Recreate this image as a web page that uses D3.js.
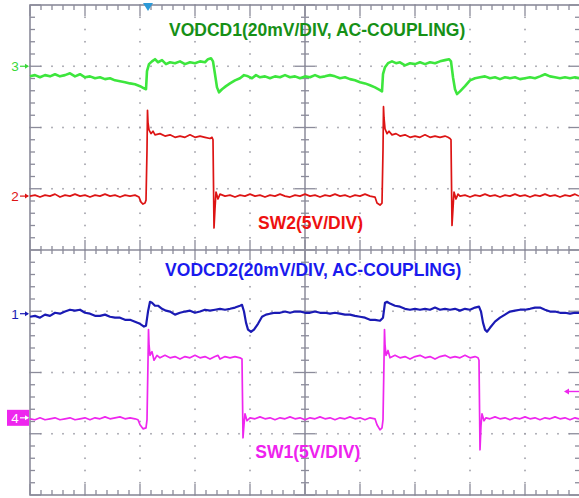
<!DOCTYPE html>
<html>
<head>
<meta charset="utf-8">
<script src="https://cdn.jsdelivr.net/npm/d3@7"></script>
<style>
  body { margin: 0; background: #fff; }
  svg { display: block; font-family: "Liberation Sans", Arial, sans-serif; }
  .grat { stroke: #8b8b9a; fill: none; }
  .dot { fill: #a0a0a8; }
  .trace { fill: none; stroke-linejoin: round; }
  .title { font-weight: bold; text-anchor: middle; }
</style>
</head>
<body>
<div id="scope"></div>
<script>
/*
* Scope capture: two buck phases, switch nodes and output ripple
*/

let width = 579;
let height = 498;

// time in samples (55 samples per division, 10 divisions on screen)
// CH3 VODCD1 in mV (AC coupled)
let ch3 = [
  [0, -3.3], [5, -2.9], [10, -3.6], [15, -2.9], [20, -3.3], [25, -2.6], [30, -3.3], [35, -2.9],
  [40, -2.3], [45, -3.3], [50, -2.6], [55, -3.6], [60, -3.3], [65, -3.9], [70, -3.6], [75, -4.2],
  [80, -3.9], [85, -4.6], [90, -4.9], [95, -5.2], [100, -5.6], [105, -5.9], [110, -6.5], [114, -7.2],
  [116, -7.5], [117, -1.6], [119, 0.7], [122, 1.6], [125, 2.3], [128, 1.3], [132, 2.0], [136, 0.7],
  [140, 1.3], [145, 1.0], [150, 1.6], [155, 0.7], [160, 1.3], [165, 1.0], [170, 1.6], [175, 1.3],
  [178, 2.3], [181, 2.6], [183, 1.6], [185, -2.6], [187, -6.9], [189, -8.5], [192, -7.5], [196, -6.5],
  [200, -5.6], [205, -4.6], [210, -3.9], [214, -2.9], [218, -3.3], [222, -3.9], [226, -2.9], [230, -3.6],
  [235, -3.3], [240, -3.9], [245, -3.3], [250, -3.6], [255, -2.9], [260, -3.6], [265, -3.3], [270, -3.9],
  [275, -3.3], [280, -3.6], [285, -2.9], [290, -3.6], [295, -3.3], [300, -2.9], [305, -3.3], [310, -3.9],
  [315, -3.6], [320, -4.2], [325, -4.6], [330, -5.2], [335, -5.6], [340, -6.2], [345, -6.9], [350, -7.8],
  [352, -8.2], [353, -2.6], [355, -0.3], [358, 1.0], [362, 1.6], [366, 1.0], [370, 1.3], [375, 0.3],
  [380, 1.0], [385, 0.7], [390, 1.3], [395, 0.7], [400, 1.3], [405, 1.0], [410, 1.6], [415, 2.0],
  [419, 2.3], [421, 1.6], [423, -3.6], [425, -7.5], [427, -9.1], [430, -8.2], [435, -6.5], [440, -4.6],
  [445, -3.9], [450, -3.6], [455, -3.3], [460, -3.9], [465, -3.6], [470, -4.2], [475, -3.6], [480, -3.9],
  [485, -3.6], [490, -4.2], [495, -3.9], [500, -3.6], [505, -3.9], [510, -3.3], [515, -2.6], [520, -3.3],
  [525, -3.6], [530, -3.9], [535, -3.6], [540, -3.9], [545, -3.6], [549, -3.9]
];

// CH2 SW2 in V
let ch2 = [
  [0, 0], [5, 0.08], [10, -0.08], [15, 0.08], [20, 0], [25, 0.16], [30, -0.08], [35, 0.08],
  [40, 0], [45, 0.16], [50, 0], [55, 0.08], [60, -0.08], [65, 0.08], [70, 0], [75, 0.16],
  [80, 0], [85, 0.08], [90, -0.08], [95, 0.08], [100, 0], [105, 0.08], [109, -0.08], [111, -0.49],
  [113, -0.65], [115, -0.57], [116, -0.33], [117, 3.75], [117.5, 7.0], [118, 6.0], [119, 5.4], [121, 5.1],
  [123, 5.3], [125, 5.0], [130, 5.1], [135, 4.9], [140, 5.0], [145, 4.8], [150, 4.9], [155, 4.8],
  [160, 5.0], [165, 4.8], [170, 4.9], [175, 4.8], [180, 4.7], [182, 4.8], [183, 4.6], [184, -2.6],
  [185, -1.0], [186, 0.33], [188, -0.24], [190, 0.16], [195, 0], [200, 0.08], [205, -0.08], [210, 0.08],
  [215, 0], [220, 0.16], [225, 0], [230, 0.08], [235, -0.08], [240, 0.08], [245, 0], [250, 0.16],
  [255, 0], [260, -0.08], [265, 0.08], [270, 0], [275, 0.16], [280, 0], [285, 0.08], [290, -0.08],
  [295, 0.08], [300, 0], [305, 0.16], [310, 0], [315, 0.08], [320, -0.08], [325, 0.08], [330, 0],
  [335, 0.16], [340, 0], [345, -0.08], [347, -0.57], [350, -0.73], [352, -0.57], [353, 3.75], [353.5, 7.3],
  [354, 6.4], [355, 5.5], [357, 5.1], [359, 5.3], [362, 5.0], [366, 5.1], [370, 4.9], [375, 5.0],
  [380, 4.8], [385, 4.9], [390, 4.8], [395, 5.0], [400, 4.8], [405, 4.9], [410, 4.8], [415, 4.9],
  [418, 4.8], [420, 4.7], [421, 4.6], [422, -2.4], [423, -1.0], [424, 0.33], [426, -0.24], [428, 0.16],
  [430, 0], [435, 0.08], [440, -0.08], [445, 0.08], [450, 0], [455, 0.16], [460, 0], [465, 0.08],
  [470, -0.08], [475, 0.08], [480, 0], [485, 0.16], [490, 0], [495, 0.08], [500, -0.08], [505, 0.08],
  [510, 0], [515, 0.16], [520, 0], [525, 0.08], [530, -0.08], [535, 0.08], [540, 0], [545, 0.16], [549, 0]
];

// CH1 VODCD2 in mV (AC coupled)
let ch1 = [
  [0, -1.0], [5, -0.7], [10, -1.3], [15, -0.3], [20, -0.7], [25, 0.3], [30, 0], [35, 0.7],
  [40, 1.3], [45, 1.0], [50, 1.3], [55, 0.3], [60, 0], [65, -0.7], [70, -0.7], [75, -0.3],
  [80, -1.0], [85, -1.3], [90, -1.3], [95, -2.0], [100, -2.0], [105, -2.6], [110, -3.3], [114, -4.2],
  [116, -3.9], [118, 0.7], [120, 3.9], [122, 3.6], [125, 2.6], [128, 2.6], [132, 1.6], [136, 1.0],
  [140, 0.7], [145, -0.3], [150, 0.3], [155, 0.7], [160, 1.0], [165, 0.3], [170, 0.7], [175, 1.3],
  [180, 1.0], [185, 1.3], [190, 1.6], [195, 1.3], [200, 1.6], [205, 2.0], [210, 2.6], [212, 2.9],
  [214, 0.7], [216, -2.9], [218, -5.2], [221, -5.9], [224, -5.2], [228, -3.3], [232, -1.0], [236, -0.3],
  [240, 0], [245, 0.3], [250, 0.3], [255, 0.7], [260, 0.3], [265, 0.7], [270, 0.7], [275, 0.3],
  [280, 0.3], [285, 0.7], [290, 0.3], [295, 0.3], [300, 0], [305, 0.3], [310, 0], [315, -0.3],
  [320, -0.3], [325, -0.7], [330, -1.0], [335, -1.3], [340, -2.0], [345, -2.0], [350, -2.3], [353, -1.3],
  [355, 3.6], [357, 3.9], [360, 3.3], [365, 2.6], [370, 2.3], [375, 1.6], [380, 1.3], [385, 1.6],
  [390, 1.3], [395, 1.6], [400, 1.3], [405, 2.0], [410, 1.3], [415, 1.6], [420, 1.3], [425, 1.6],
  [430, 1.0], [435, 1.6], [440, 1.3], [445, 2.0], [449, 2.3], [451, 0.7], [453, -2.9], [455, -5.2],
  [457, -5.9], [460, -4.6], [465, -2.6], [470, -1.3], [475, -0.3], [480, 0.7], [485, 1.0], [490, 1.3],
  [495, 1.3], [500, 1.6], [505, 2.0], [510, 2.0], [515, 1.3], [520, 0.7], [525, 0.7], [530, 0.3],
  [535, 0.3], [540, 0], [545, 0.3], [549, 0.3]
];

// CH4 SW1 in V
let ch4 = [
  [0, -0.08], [5, -0.16], [10, 0], [15, -0.16], [20, -0.08], [25, 0], [30, -0.16], [35, -0.08],
  [40, 0], [45, -0.16], [50, -0.08], [55, 0], [60, -0.16], [65, 0], [70, -0.08], [75, 0.08],
  [80, -0.08], [85, 0], [90, 0.08], [95, -0.08], [100, 0], [105, -0.08], [108, -0.16], [110, -0.57],
  [113, -0.9], [116, -0.82], [117, -0.16], [118, 4.6], [118.5, 7.2], [119, 6.0], [120, 5.1], [122, 5.4],
  [124, 4.7], [127, 5.1], [130, 4.9], [135, 5.1], [140, 4.9], [145, 5.0], [150, 4.8], [155, 5.0],
  [160, 4.9], [165, 5.1], [170, 4.9], [175, 5.0], [180, 4.8], [185, 5.0], [188, 5.1], [190, 4.8],
  [195, 5.0], [200, 4.9], [205, 5.0], [210, 4.9], [212, 4.8], [213, -1.63], [214, -0.57], [215, 0.33],
  [217, -0.24], [220, 0], [225, -0.08], [230, 0.08], [235, -0.08], [240, 0], [245, -0.16], [250, 0],
  [255, -0.08], [260, 0.08], [265, -0.08], [270, 0], [275, -0.16], [280, 0], [285, -0.08], [290, 0.08],
  [295, -0.08], [300, 0], [305, -0.16], [310, 0], [315, -0.08], [320, 0.08], [325, -0.08], [330, 0],
  [335, -0.16], [340, 0], [345, -0.08], [347, -0.57], [350, -0.98], [352, -0.82], [353, -0.16], [354, 4.6],
  [354.5, 7.2], [355, 6.0], [356, 5.1], [358, 5.5], [360, 4.9], [365, 5.1], [370, 4.9], [375, 5.0],
  [380, 4.8], [385, 5.0], [390, 5.1], [395, 4.9], [400, 5.0], [405, 4.8], [410, 5.0], [415, 5.1],
  [420, 4.9], [425, 5.0], [430, 4.9], [435, 5.1], [440, 4.9], [445, 5.0], [448, 4.9], [449, 4.7],
  [450, -2.61], [451, -0.65], [452, 0.33], [454, -0.24], [456, 0], [460, -0.08], [465, 0.08], [470, -0.08],
  [475, 0], [480, -0.16], [485, 0], [490, -0.08], [495, 0.08], [500, -0.08], [505, 0], [510, -0.16],
  [515, 0], [520, -0.08], [525, 0.08], [530, -0.08], [535, 0], [540, -0.16], [545, 0], [549, -0.08]
];

let CHANNELS = [
  { id: '3', data: ch3, perDiv: 20, offset: 3.0, color: '#3de63d', text: '#38d838', width: 2.6 },
  { id: '2', data: ch2, perDiv: 5, offset: 0.88, color: '#dd1414', text: '#dd1414', width: 1.7 },
  { id: '1', data: ch1, perDiv: 20, offset: -1.04, color: '#1a1ab4', text: '#1a1ab4', width: 2.2 },
  { id: '4', data: ch4, perDiv: 5, offset: -2.74, color: '#ee26ee', text: '#ee26ee', width: 1.7 }
];

let LABELS = [
  { text: 'VODCD1(20mV/DIV, AC-COUPLING)', x: 5.22, y: 3.5, color: '#169016' },
  { text: 'SW2(5V/DIV)', x: 5.1, y: 0.35, color: '#ee1111' },
  { text: 'VODCD2(20mV/DIV, AC-COUPLING)', x: 5.15, y: -0.42, color: '#1a1aee' },
  { text: 'SW1(5V/DIV)', x: 5.05, y: -3.4, color: '#ee22ee' }
];

let trigger = { time: 118, level: -2.31 };

let margin = { left: 30, top: 5 };
let plotW = 550;
let plotH = 490;

window.onload = function () {
  let svg = d3.select('#scope').append('svg')
    .attr('width', width)
    .attr('height', height);

  // graticule in divisions
  let xDiv = d3.scaleLinear().domain([0, 10]).range([margin.left, margin.left + plotW]);
  let yDiv = d3.scaleLinear().domain([-4, 4]).range([margin.top + plotH, margin.top]);
  let xTime = d3.scaleLinear().domain([0, 550]).range([margin.left, margin.left + plotW]);

  drawGraticule(svg, xDiv, yDiv);
  drawTraces(svg, xTime, yDiv);
  drawMarkers(svg, xTime, yDiv);

  svg.selectAll('.title').data(LABELS).enter().append('text')
    .attr('class', 'title')
    .attr('x', d => xDiv(d.x))
    .attr('y', d => yDiv(d.y))
    .style('font-size', '17.5px')
    .style('fill', d => d.color)
    .text(d => d.text);
};

function drawGraticule(svg, xDiv, yDiv) {
  let g = svg.append('g');
  let minorX = d3.range(0, 10.001, 0.2);
  let minorY = d3.range(-4, 4.001, 0.2);
  let majorX = d3.range(1, 10);
  let majorY = d3.range(-3, 4);

  // dotted grid
  let dots = [];
  majorX.filter(d => d !== 5).forEach(mx => {
    minorY.forEach(my => dots.push([mx, my]));
  });
  majorY.filter(d => d !== 0).forEach(my => {
    minorX.forEach(mx => dots.push([mx, my]));
  });
  g.selectAll('.dot').data(dots).enter().append('rect')
    .attr('class', 'dot')
    .attr('x', d => xDiv(d[0]) - 0.8)
    .attr('y', d => yDiv(d[1]) - 0.8)
    .attr('width', 1.6)
    .attr('height', 1.6);

  // center axes
  g.append('line').attr('class', 'grat')
    .attr('x1', xDiv(0)).attr('x2', xDiv(10))
    .attr('y1', yDiv(0)).attr('y2', yDiv(0))
    .style('stroke-width', 1.5);
  g.append('line').attr('class', 'grat')
    .attr('x1', xDiv(5)).attr('x2', xDiv(5))
    .attr('y1', yDiv(-4)).attr('y2', yDiv(4))
    .style('stroke-width', 1.5);

  let isMajor = v => Math.abs(v - Math.round(v)) < 0.01;

  // ticks on the center axes
  g.selectAll('.cx').data(minorX).enter().append('line')
    .attr('class', 'grat')
    .attr('x1', d => xDiv(d)).attr('x2', d => xDiv(d))
    .attr('y1', d => yDiv(0) - (isMajor(d) ? 10 : 4))
    .attr('y2', d => yDiv(0) + (isMajor(d) ? 10 : 4))
    .style('stroke-width', 1.3);
  g.selectAll('.cy').data(minorY).enter().append('line')
    .attr('class', 'grat')
    .attr('x1', d => xDiv(5) - (isMajor(d) ? 10 : 4))
    .attr('x2', d => xDiv(5) + (isMajor(d) ? 10 : 4))
    .attr('y1', d => yDiv(d)).attr('y2', d => yDiv(d))
    .style('stroke-width', 1.3);

  // ticks on the border
  [yDiv(4), yDiv(-4)].forEach((y0, i) => {
    let dir = i === 0 ? 1 : -1;
    g.selectAll('.bx' + i).data(minorX).enter().append('line')
      .attr('class', 'grat')
      .attr('x1', d => xDiv(d)).attr('x2', d => xDiv(d))
      .attr('y1', y0)
      .attr('y2', d => y0 + dir * (isMajor(d) ? 11 : 5))
      .style('stroke-width', 1.3);
  });
  [xDiv(0), xDiv(10)].forEach((x0, i) => {
    let dir = i === 0 ? 1 : -1;
    g.selectAll('.by' + i).data(minorY).enter().append('line')
      .attr('class', 'grat')
      .attr('y1', d => yDiv(d)).attr('y2', d => yDiv(d))
      .attr('x1', x0)
      .attr('x2', d => x0 + dir * (isMajor(d) ? 11 : 5))
      .style('stroke-width', 1.3);
  });

  g.append('rect').attr('class', 'grat')
    .attr('x', xDiv(0)).attr('y', yDiv(4))
    .attr('width', xDiv(10) - xDiv(0))
    .attr('height', yDiv(-4) - yDiv(4))
    .style('stroke-width', 1.6);
}

function drawTraces(svg, xTime, yDiv) {
  let g = svg.append('g');
  CHANNELS.forEach(ch => {
    let line = d3.line()
      .x(d => xTime(d[0]))
      .y(d => yDiv(ch.offset + d[1] / ch.perDiv));
    g.append('path')
      .attr('class', 'trace')
      .attr('d', line(ch.data))
      .style('stroke', ch.color)
      .style('stroke-width', ch.width);
  });
}

function drawMarkers(svg, xTime, yDiv) {
  let g = svg.append('g');

  CHANNELS.forEach(ch => {
    let y = yDiv(ch.offset);
    let m = g.append('g').attr('transform', 'translate(0,' + y + ')');
    let fg = ch.text;
    if (ch.id === '4') {
      m.append('rect')
        .attr('x', 7).attr('y', -8)
        .attr('width', 22).attr('height', 16)
        .style('fill', ch.color);
      fg = '#fff';
    }
    m.append('text')
      .attr('x', 15).attr('y', 5)
      .style('font-size', '13.5px')
      .style('text-anchor', 'middle')
      .style('fill', fg)
      .text(ch.id);
    m.append('line')
      .attr('x1', 20).attr('x2', 28)
      .attr('y1', 0).attr('y2', 0)
      .style('stroke', fg).style('stroke-width', 1.2);
    m.append('path')
      .attr('d', 'M29,0 L25,-2.5 L25,2.5 Z')
      .style('fill', fg);
  });

  // trigger position
  let tx = xTime(trigger.time);
  g.append('path')
    .attr('d', 'M' + (tx - 5) + ',3 L' + (tx + 5) + ',3 L' + tx + ',11 Z')
    .style('fill', '#2c9ad8');

  // trigger level (CH4)
  let ty = yDiv(trigger.level);
  g.append('line')
    .attr('x1', 568).attr('x2', 579)
    .attr('y1', ty).attr('y2', ty)
    .style('stroke', '#ee26ee').style('stroke-width', 1.4);
  g.append('path')
    .attr('d', 'M564,' + ty + ' L569,' + (ty - 3) + ' L569,' + (ty + 3) + ' Z')
    .style('fill', '#ee26ee');
}
</script>
</body>
</html>
